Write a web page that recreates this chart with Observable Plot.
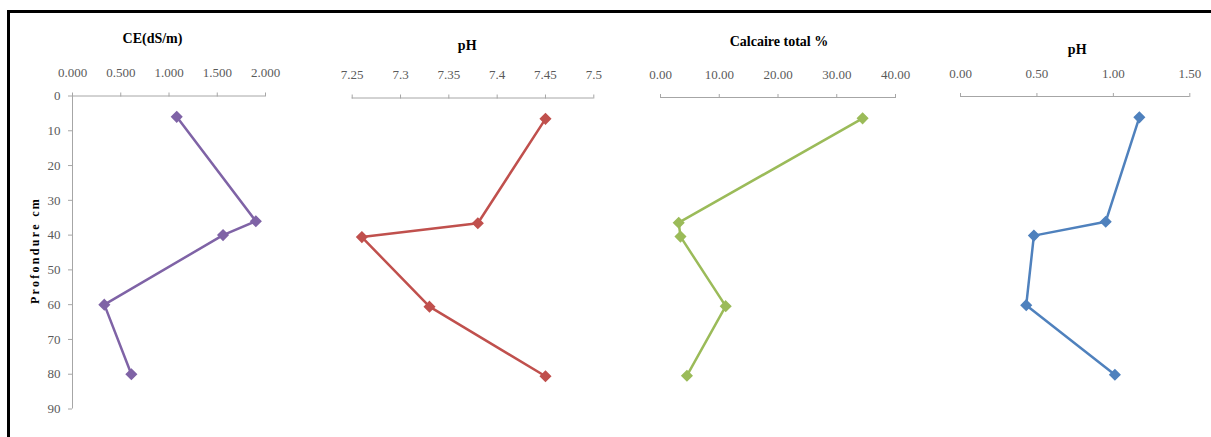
<!DOCTYPE html>
<html>
<head>
<meta charset="utf-8">
<script src="https://cdn.jsdelivr.net/npm/d3@7"></script>
<script src="https://cdn.jsdelivr.net/npm/@observablehq/plot@0.6"></script>
<style>
  html, body { margin: 0; padding: 0; background: #fff; }
  #chart { position: relative; width: 1211px; height: 437px; overflow: hidden; background: #fff; }
  #frame { position: absolute; left: 7px; top: 10px; right: 0; bottom: 0;
           border-top: 3px solid #000; border-left: 3px solid #000; }
  .panel { position: absolute; top: 0; }
</style>
</head>
<body>
<div id="chart"><div id="frame"></div></div>
<script>
// Soil profile: depth (cm) of each sampled horizon
const profondeur = [6, 36, 40, 60, 80];

// Measured values per horizon
const ce = [1.08, 1.90, 1.56, 0.33, 0.61];        // CE (dS/m)
const pH = [7.45, 7.38, 7.26, 7.33, 7.45];        // pH
const calcaire = [34.4, 3.1, 3.4, 11.1, 4.5];     // Calcaire total %
const pH2 = [1.17, 0.95, 0.48, 0.43, 1.01];       // second pH panel

// Axis ticks
const depthTicks = [0, 10, 20, 30, 40, 50, 60, 70, 80, 90];
const ceTicks = [0, 0.5, 1, 1.5, 2];
const pHTicks = [7.25, 7.3, 7.35, 7.4, 7.45, 7.5];
const calcaireTicks = [0, 10, 20, 30, 40];
const pH2Ticks = [0, 0.5, 1, 1.5];

const depthLabel = "Profondure cm";

const fmt3 = d3.format(".3f");
const fmt2 = d3.format(".2f");
const fmtPH = (d) => String(+d.toFixed(2));

const panels = [
  {title: "CE(dS/m)", values: ce, domain: [0, 2], ticks: ceTicks, format: fmt3, color: "#7f63a6",
   left: 10, width: 300, mL: 62, mR: 45, mT: 95.5, mB: 28.5, tdx: 80, tdy: -53.5, yAxis: true},
  {title: "pH", values: pH, domain: [7.25, 7.5], ticks: pHTicks, format: fmtPH, color: "#c0504d",
   left: 310, width: 310, mL: 41.7, mR: 26.7, mT: 97.5, mB: 26.5, tdx: 115, tdy: -48.5},
  {title: "Calcaire total %", values: calcaire, domain: [0, 40], ticks: calcaireTicks, format: fmt2, color: "#9bbb59",
   left: 620, width: 300, mL: 40, mR: 25, mT: 97, mB: 27, tdx: 118.5, tdy: -52},
  {title: "pH", values: pH2, domain: [0, 1.5], ticks: pH2Ticks, format: fmt2, color: "#4f81bd",
   left: 920, width: 291, mL: 40, mR: 21.7, mT: 96, mB: 28, tdx: 116.7, tdy: -43}
];

const axisGrey = "#a6a6a6";
const labelGrey = "#5a5a5a";
const serif = "'Liberation Serif', 'Times New Roman', serif";

for (const p of panels) {
  const rows = profondeur.map((d, i) => ({depth: d, value: p.values[i]}));
  const marks = [
    Plot.ruleY([0], {stroke: axisGrey, strokeWidth: 1}),
    Plot.axisX(p.ticks, {anchor: "top", label: null, tickSize: 4, tickPadding: 15, tickFormat: p.format,
                         stroke: axisGrey, fill: labelGrey, fontSize: 13})
  ];
  if (p.yAxis) {
    marks.push(
      Plot.ruleX([p.domain[0]], {stroke: axisGrey, strokeWidth: 1}),
      Plot.axisY(depthTicks, {anchor: "left", label: null, tickSize: 4, tickPadding: 8,
                              stroke: axisGrey, fill: labelGrey, fontSize: 13}),
      Plot.text([depthLabel], {frameAnchor: "left", rotate: -90, dx: -37, dy: -2,
                               textAnchor: "middle", lineAnchor: "middle",
                               fontWeight: "bold", fontSize: 12, fill: "#000"})
    );
  }
  marks.push(
    Plot.line(rows, {x: "value", y: "depth", stroke: p.color, strokeWidth: 2.5}),
    Plot.dot(rows, {x: "value", y: "depth", symbol: "diamond2", r: 4.5, fill: p.color, stroke: p.color}),
    Plot.text([p.title], {frameAnchor: "top-left", dx: p.tdx, dy: p.tdy, textAnchor: "middle",
                          lineAnchor: "bottom", fontWeight: "bold", fontSize: 14, fill: "#000"})
  );

  const svg = Plot.plot({
    width: p.width,
    height: 437,
    marginLeft: p.mL,
    marginRight: p.mR,
    marginTop: p.mT,
    marginBottom: p.mB,
    x: {domain: p.domain, axis: null, label: null},
    y: {domain: [0, 90], reverse: true, axis: null, label: null},
    style: {fontFamily: serif, fontSize: "13px", background: "transparent", overflow: "visible"},
    marks
  });
  // spaced lettering for the depth title, as in the original layout
  svg.querySelectorAll("text").forEach((t) => {
    if (t.textContent === depthLabel) t.style.letterSpacing = "2.3px";
  });
  svg.classList.add("panel");
  svg.style.left = p.left + "px";
  svg.style.maxWidth = "none";
  document.getElementById("chart").appendChild(svg);
}
</script>
</body>
</html>
